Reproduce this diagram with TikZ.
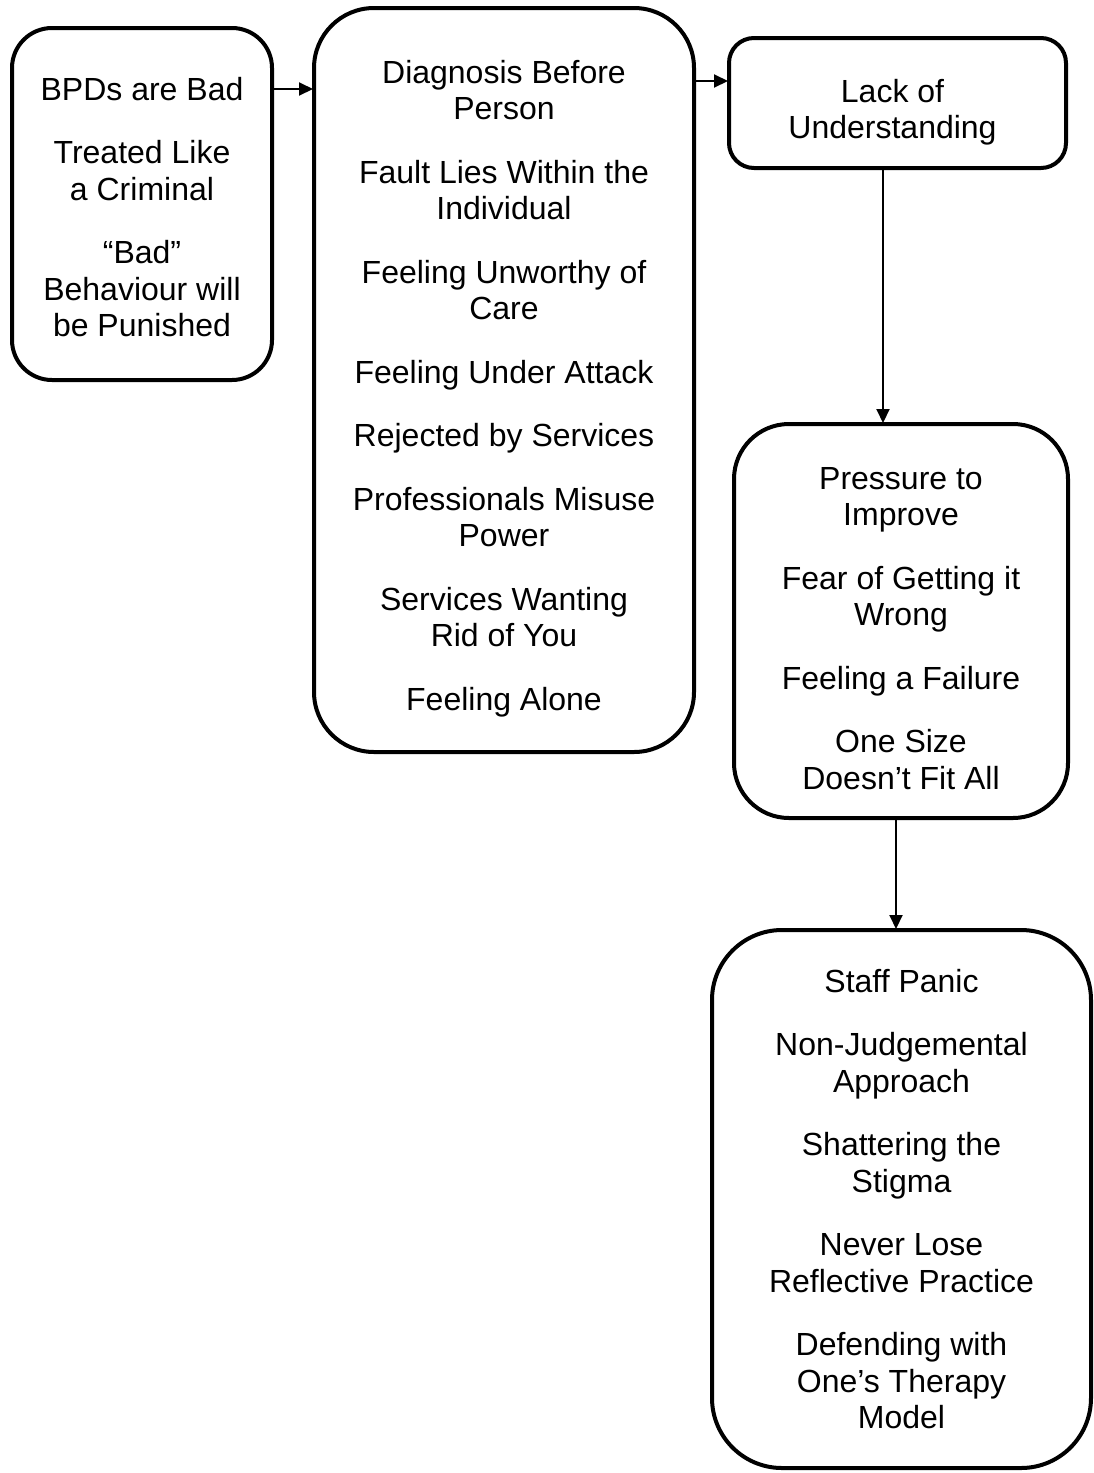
\documentclass[tikz,border=0pt]{standalone}
\usepackage{fontspec}
\setmainfont{Liberation Sans}
\usetikzlibrary{arrows.meta}
\begin{document}
\begin{tikzpicture}[x=1pt,y=-1pt,
  box/.style={draw, line width=4pt, inner sep=0pt},
  txt/.style={align=center, inner sep=0pt, font=\fontsize{32}{36.5}\selectfont},
  arr/.style={line width=2pt, -{Triangle[length=14pt,width=13pt]}, shorten >=-1pt}]
\useasboundingbox (0,0) rectangle (1093,1473);

% frames
\node[box, minimum width=260pt, minimum height=352pt, rounded corners=40pt] (b1) at (142,204) {};
\node[box, minimum width=380pt, minimum height=744pt, rounded corners=60pt] (b2) at (504,380) {};
\node[box, minimum width=337pt, minimum height=130pt, rounded corners=25pt] (b3) at (897.5,103) {};
\node[box, minimum width=334pt, minimum height=394pt, rounded corners=55pt] (b4) at (901,621) {};
\node[box, minimum width=379pt, minimum height=538pt, rounded corners=70pt] (b5) at (901.5,1199) {};

% contents
\node[txt] (t1) at ([yshift=-3pt]b1.center)
  {BPDs are Bad\\[27pt]
   Treated Like\\a Criminal\\[27pt]
   “Bad”\\Behaviour will\\be Punished};

\node[txt] (t2) at ([yshift=-8.5pt]b2.center)
  {Diagnosis Before\\Person\\[27pt]
   Fault Lies Within the\\Individual\\[27pt]
   Feeling Unworthy of\\Care\\[27pt]
   Feeling Under Attack\\[27pt]
   Rejected by Services\\[27pt]
   Professionals Misuse\\Power\\[27pt]
   Services Wanting\\Rid of You\\[27pt]
   Feeling Alone};

\node[txt] (t3) at ([xshift=-5pt,yshift=-9pt]b3.center)
  {Lack of\\Understanding};

\node[txt] (t4) at ([yshift=-7.5pt]b4.center)
  {Pressure to\\Improve\\[27pt]
   Fear of Getting it\\Wrong\\[27pt]
   Feeling a Failure\\[27pt]
   One Size\\Doesn’t Fit All};

\node[txt] (t5) at (b5.center)
  {Staff Panic\\[27pt]
   Non-Judgemental\\Approach\\[27pt]
   Shattering the\\Stigma\\[27pt]
   Never Lose\\Reflective Practice\\[27pt]
   Defending with\\One’s Therapy\\Model};

% connectors between the boxes
\draw[arr] ([yshift=-63pt]b1.north east) -- ([yshift=-63pt]b1.north east -| b2.west);
\draw[arr] ([yshift=-75pt]b2.north east) -- ([yshift=-75pt]b2.north east -| b3.west);
\draw[arr] ([xshift=156pt]b3.south west) -- ([xshift=156pt]b3.south west |- b4.north);
\draw[arr] ([xshift=164pt]b4.south west) -- ([xshift=164pt]b4.south west |- b5.north);
\end{tikzpicture}
\end{document}
